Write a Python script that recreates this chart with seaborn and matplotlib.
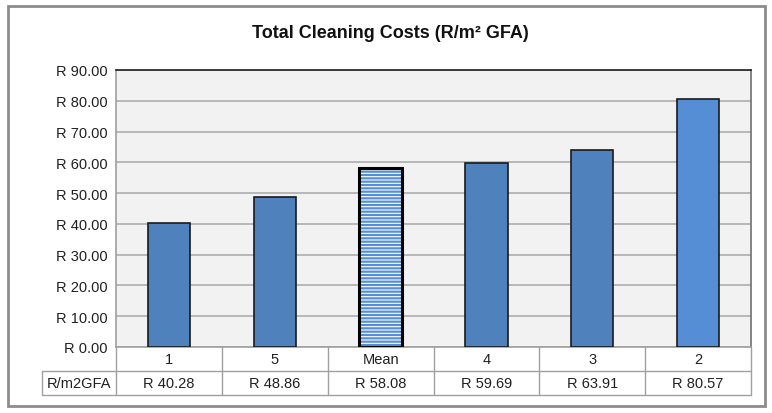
import matplotlib
matplotlib.use('Agg')
import matplotlib.pyplot as plt
import seaborn as sns
from matplotlib.patches import Rectangle

# Data
categories = ['1', '5', 'Mean', '4', '3', '2']
costs = [40.28, 48.86, 58.08, 59.69, 63.91, 80.57]
row_label = 'R/m2GFA'
bar_colors = ['#4F81BD', '#4F81BD', '#558ED5', '#4F81BD', '#4F81BD', '#558ED5']
y_ticks = [0, 10, 20, 30, 40, 50, 60, 70, 80, 90]

sns.set_theme(style='white')
plt.rcParams['font.family'] = ['Liberation Sans Narrow', 'Liberation Sans', 'DejaVu Sans']
plt.rcParams['hatch.linewidth'] = 1.6

fig = plt.figure(figsize=(7.72, 4.14), dpi=100)
W, H = 772, 414
ax = fig.add_axes([116 / W, 1 - 348 / H, (751 - 116) / W, (348 - 71) / H])
ax.set_facecolor('#F2F2F2')

sns.barplot(x=categories, y=costs, hue=categories, palette=bar_colors, legend=False,
            saturation=1, width=0.4, edgecolor='#1a1a1a', linewidth=1.2, ax=ax, zorder=3)

# Mean bar: white with blue horizontal stripes, thick black outline
mean_idx = categories.index('Mean')
p = ax.patches[mean_idx]
p.set_facecolor('white')
p.set_edgecolor('#558ED5')
p.set_hatch('-----')
p.set_linewidth(0)
ax.add_patch(Rectangle((p.get_x(), p.get_y()), p.get_width(), p.get_height(),
                       fill=False, edgecolor='black', linewidth=2.2, zorder=4))

ax.set_ylim(0, 90)
ax.set_xlim(-0.5, len(categories) - 0.5)
ax.set_yticks(y_ticks)
ax.set_yticklabels([f'R {v:.2f}' for v in y_ticks], fontsize=10.5, color='#202020')
ax.tick_params(axis='y', length=0, pad=6)
ax.set_xticks([])
ax.set_xlabel('')
ax.set_ylabel('')
ax.grid(axis='y', color='#ADADAD', linewidth=1.2, zorder=0)
ax.set_axisbelow(True)
for side in ['left', 'bottom']:
    ax.spines[side].set_color('#A0A0A0')
ax.spines['top'].set_color('#202020')
ax.spines['right'].set_color('#707070')
for s in ax.spines.values():
    s.set_linewidth(1.2)

# Data table below the plot, drawn by hand
ax_w = 751 - 116
ax_h = 348 - 71
lab_w = (116 - 42) / ax_w
rh = 24 / ax_h
grid_kw = dict(color='#A0A0A0', linewidth=1.0, clip_on=False)
xt = ax.get_xaxis_transform()
ax.plot([-lab_w, 1], [-rh, -rh], transform=ax.transAxes, **grid_kw)
ax.plot([-lab_w, 1], [-2 * rh, -2 * rh], transform=ax.transAxes, **grid_kw)
ax.plot([-lab_w, -lab_w], [-rh, -2 * rh], transform=ax.transAxes, **grid_kw)
for i in range(len(categories) + 1):
    ax.plot([i - 0.5, i - 0.5], [0, -2 * rh], transform=xt, **grid_kw)
for i, (cat, v) in enumerate(zip(categories, costs)):
    ax.text(i, -rh / 2, cat, transform=xt, ha='center', va='center',
            fontsize=10.5, color='#202020')
    ax.text(i, -1.5 * rh, f'R {v:.2f}', transform=xt, ha='center', va='center',
            fontsize=10.5, color='#202020')
ax.text(-lab_w / 2, -1.5 * rh, row_label, transform=ax.transAxes, ha='center',
        va='center', fontsize=10.5, color='#202020')

fig.suptitle('Total Cleaning Costs (R/m² GFA)', x=390 / W, y=1 - 33 / H,
             va='center', fontsize=13, fontweight='bold', color='#111111')

# Outer chart border
fig.patches.append(Rectangle((8 / W, 1 - 407 / H), (765 - 8) / W, (407 - 7) / H,
                             transform=fig.transFigure, fill=False,
                             edgecolor='#8C8C8C', linewidth=2))

fig.savefig('out.png', dpi=100)
